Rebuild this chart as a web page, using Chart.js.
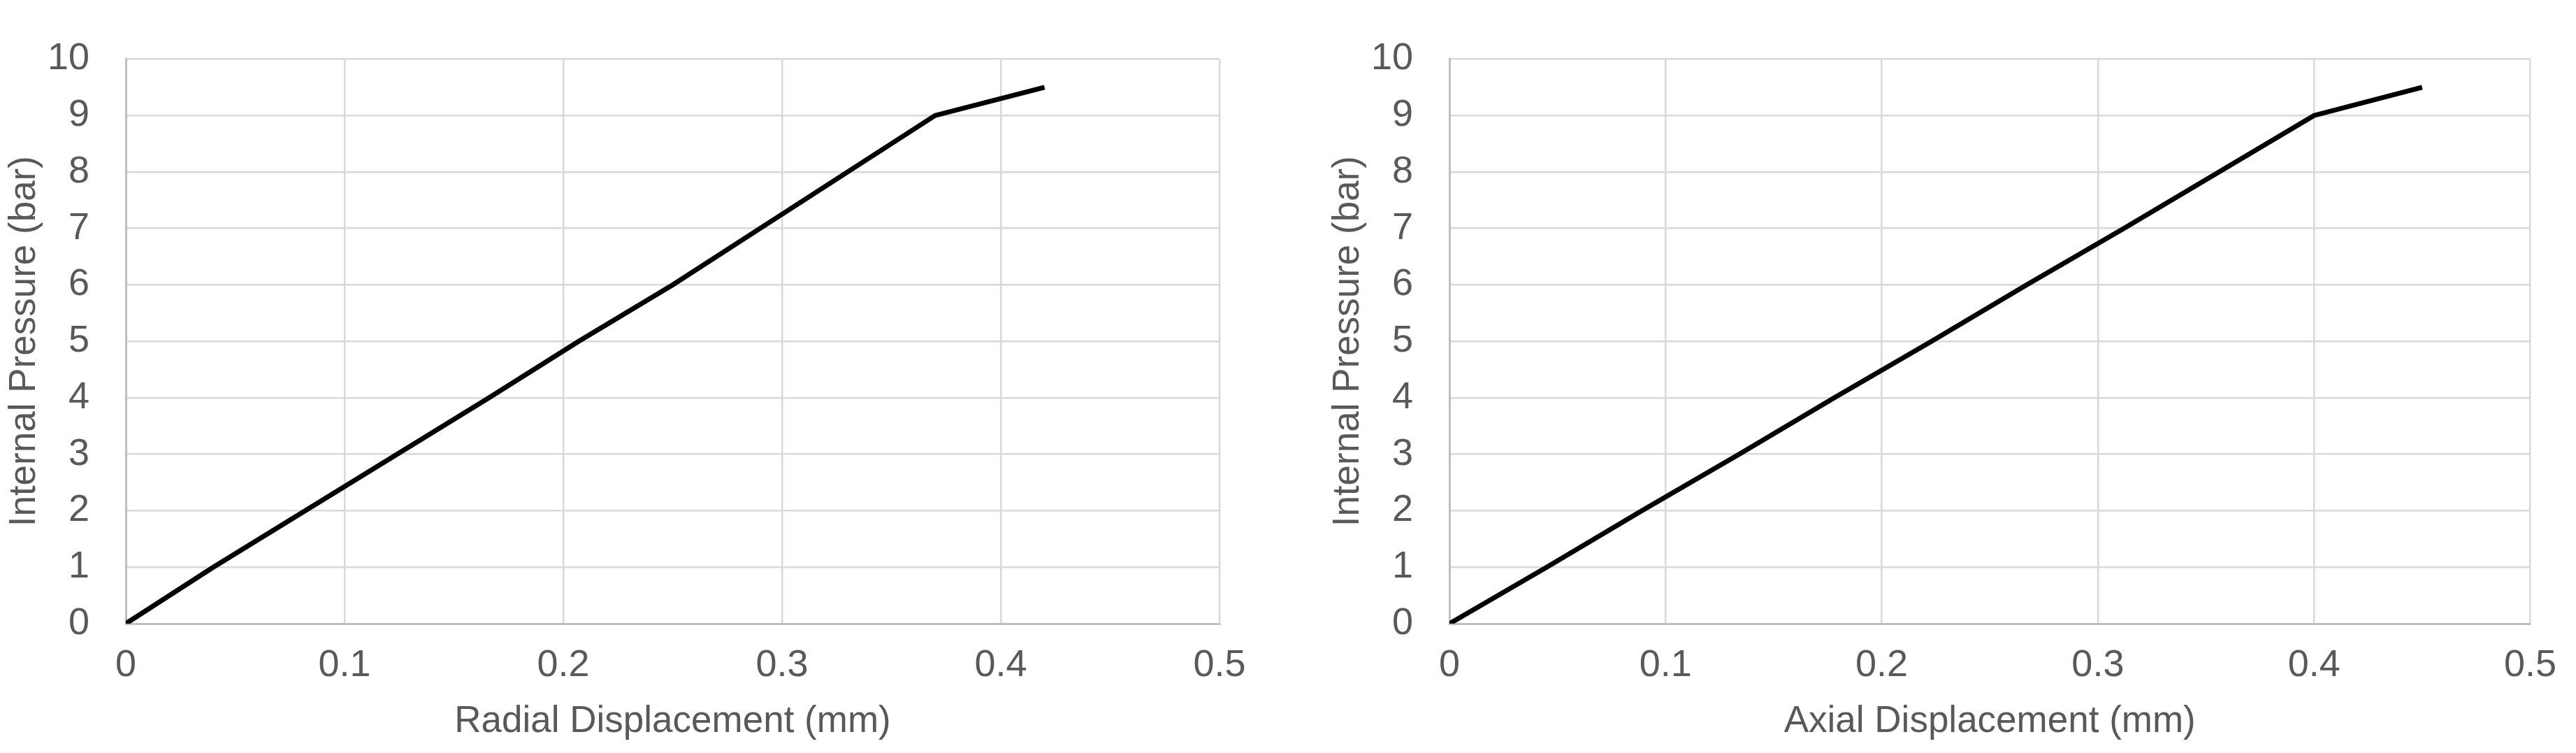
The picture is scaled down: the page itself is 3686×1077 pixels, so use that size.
<!DOCTYPE html>
<html><head><meta charset="utf-8">
<script src="https://cdn.jsdelivr.net/npm/chart.js@4/dist/chart.umd.min.js"></script>
<style>
html,body{margin:0;padding:0;background:#fff;overflow:hidden;}
#wrap{position:relative;width:3686px;height:1077px;background:#fff;}
canvas{position:absolute;top:0;}
</style></head><body>
<div id="wrap">
<canvas id="c1" width="1843" height="1077" style="left:0;width:1843px;height:1077px"></canvas>
<canvas id="c2" width="1843" height="1077" style="left:1843px;width:1843px;height:1077px"></canvas>
</div>
<script>
// ---- data ----
const radialPressure = [0, 1, 2, 3, 4, 5, 6, 7, 8, 9, 9.5];
const radialDisplacement = [0, 0.040, 0.082, 0.124, 0.166, 0.207, 0.250, 0.290, 0.330, 0.370, 0.420];
const axialPressure = [0, 1, 2, 3, 4, 5, 6, 7, 8, 9, 9.5];
const axialDisplacement = [0, 0.045, 0.089, 0.134, 0.178, 0.223, 0.267, 0.312, 0.356, 0.400, 0.450];
const xTickLabels = ['0', '0.1', '0.2', '0.3', '0.4', '0.5'];
const yTickLabels = ['0', '1', '2', '3', '4', '5', '6', '7', '8', '9', '10'];
const xTitleRadial = 'Radial Displacement (mm)';
const xTitleAxial = 'Axial Displacement (mm)';
const yTitle = 'Internal Pressure (bar)';

Chart.defaults.font.family = "'Liberation Sans', Arial, sans-serif";
Chart.defaults.color = '#595959';

const TEXT = '#595959';
const GRID = '#d9d9d9';
const AXIS = '#bfbfbf';
const TICK_FONT = "'Liberation Sans Narrow', 'Arial Narrow', 'Liberation Sans', Arial, sans-serif";

function makeChart(id, xs, ys, xTitle, padLeft, padRight) {
  const pts = xs.map((x, i) => ({x: x, y: ys[i]}));
  return new Chart(document.getElementById(id), {
    type: 'scatter',
    data: {datasets: [{
      data: pts,
      showLine: true,
      borderColor: '#000000',
      backgroundColor: '#000000',
      borderWidth: 7,
      pointRadius: 0,
      tension: 0,
      fill: false
    }]},
    options: {
      responsive: false,
      animation: false,
      devicePixelRatio: 1,
      plugins: {legend: {display: false}, tooltip: {enabled: false}},
      layout: {padding: {left: padLeft, right: padRight, top: 38, bottom: 13}},
      scales: {
        x: {
          type: 'linear', min: 0, max: 0.5,
          ticks: {stepSize: 0.1, autoSkip: false, maxRotation: 0, padding: 28,
            color: TEXT, font: {size: 54, family: TICK_FONT},
            callback: (v, i) => xTickLabels[i]},
          grid: {color: GRID, lineWidth: 2.5, drawTicks: false},
          border: {color: AXIS, width: 3},
          title: {display: true, text: xTitle, color: TEXT, font: {size: 53}, padding: {top: 0, bottom: 0}},
          afterFit: (s) => { s.height = 172; }
        },
        y: {
          type: 'linear', min: 0, max: 10,
          ticks: {stepSize: 1, autoSkip: false, padding: 52,
            color: TEXT, font: {size: 54, family: TICK_FONT},
            callback: (v, i) => yTickLabels[i]},
          grid: {color: GRID, lineWidth: 2.5, drawTicks: false},
          border: {color: AXIS, width: 3},
          title: {display: true, text: yTitle, color: TEXT, font: {size: 53}, padding: {top: 0, bottom: 0}},
          afterFit: (s) => { s.width = 176; }
        }
      }
    }
  });
}

makeChart('c1', radialDisplacement, radialPressure, xTitleRadial, 4, 98);
makeChart('c2', axialDisplacement, axialPressure, xTitleAxial, 55, 50);
</script>
</body></html>
